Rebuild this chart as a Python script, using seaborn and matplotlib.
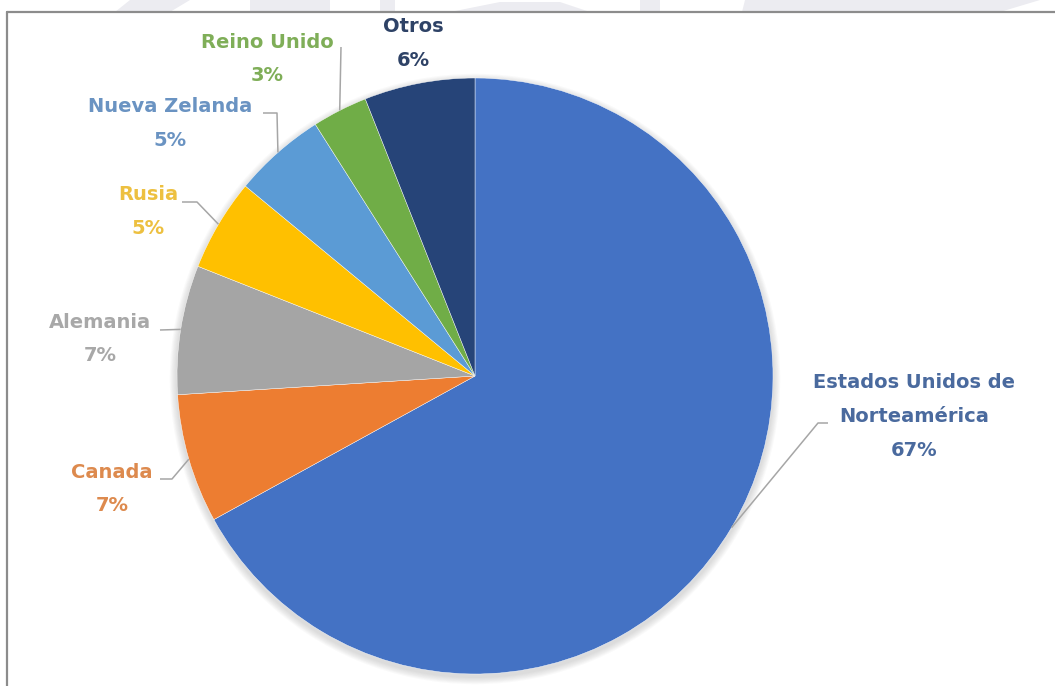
import numpy as np
import matplotlib
matplotlib.use("Agg")
import matplotlib.pyplot as plt
from matplotlib.patches import Circle, Polygon
import seaborn as sns

# ---- data ----
countries = ["Estados Unidos de\nNorteamérica", "Canada", "Alemania", "Rusia",
             "Nueva Zelanda", "Reino Unido", "Otros"]
shares = [67, 7, 7, 5, 5, 3, 6]
slice_colors = ["#4472C4", "#ED7D31", "#A5A5A5", "#FFC000",
                "#5B9BD5", "#70AD47", "#264478"]
text_colors = ["#4A6A9E", "#DD8A4E", "#A8A8A8", "#EDC040",
               "#6A93C2", "#7FAE58", "#2E4266"]

sns.set_theme(style="white")
plt.rcParams["font.family"] = ["DejaVu Sans"]

W, H = 1055, 686
fig = plt.figure(figsize=(W / 100, H / 100), dpi=100)
ax = fig.add_axes([0, 0, 1, 1])

# layout (image pixel coordinates, y downward)
cx, cy, R = 475, 376, 298
def Y(y):
    return H - y

palette = sns.color_palette(slice_colors)

# faint watermark fragments above the chart frame
for poly in [[(130, 0), (190, 0), (170, 12), (115, 12)],
             [(250, 0), (330, 0), (330, 12), (250, 12)],
             [(380, 0), (395, 0), (395, 12), (380, 12)],
             [(450, 12), (500, 2), (560, 2), (590, 12)],
             [(640, 0), (660, 0), (660, 12), (640, 12)],
             [(745, 0), (1040, 0), (1000, 12), (742, 12)]]:
    ax.add_patch(Polygon([(x, Y(y)) for x, y in poly], closed=True,
                         color="#ECECF1", lw=0, zorder=0))

# soft shadow
for i in range(8, 0, -1):
    ax.add_patch(Circle((cx, Y(cy + 3)), R + i * 0.9, color="#7f7f7f",
                        alpha=0.035, lw=0, zorder=0))

wedges, _ = ax.pie(shares, colors=palette, startangle=90, counterclock=False,
                   center=(cx, Y(cy)), radius=R,
                   wedgeprops=dict(edgecolor="white", linewidth=0.3))
for w in wedges:
    w.set_zorder(2)

# label layout: first-line center (x, y) in image px, and leader elbow points
label_pos = {
    0: (914, 383),
    1: (112, 472),
    2: (100, 322),
    3: (148, 195),
    4: (170, 107),
    5: (267, 42),
    6: (413, 27),
}
leaders = {
    0: [(818, 423), (828, 423)],
    1: [(172, 479), (160, 479)],
    2: [(160, 330)],
    3: [(197, 202), (182, 202)],
    4: [(277, 113), (263, 113)],
    5: [(341, 47)],
}
line_step = 33.5

total = sum(shares)
cum = np.cumsum([0] + shares)
for i, (name, val) in enumerate(zip(countries, shares)):
    mid_frac = (cum[i] + cum[i + 1]) / 2 / total
    theta = np.deg2rad(90 - 360 * mid_frac)
    ex, ey = cx + R * np.cos(theta), cy - R * np.sin(theta)
    if i in leaders:
        pts = [(ex, ey)] + leaders[i]
        ax.plot([p[0] for p in pts], [Y(p[1]) for p in pts], color="#A6A6A6",
                lw=1.1, zorder=3, solid_capstyle="butt")
    lines = name.split("\n") + [f"{val}%"]
    x0, y0 = label_pos[i]
    for k, t in enumerate(lines):
        ax.text(x0, Y(y0 + k * line_step), t, ha="center", va="center",
                fontsize=14, fontweight="bold", color=text_colors[i], zorder=4)

# chart frame
ax.plot([7, W], [Y(12), Y(12)], color="#8C8C8C", lw=1.6, zorder=5)
ax.plot([7, 7], [Y(12), 0], color="#8C8C8C", lw=1.6, zorder=5)

ax.set_xlim(0, W)
ax.set_ylim(0, H)
ax.set_aspect("equal")
ax.axis("off")

fig.savefig("out.png", dpi=100, facecolor="white")
